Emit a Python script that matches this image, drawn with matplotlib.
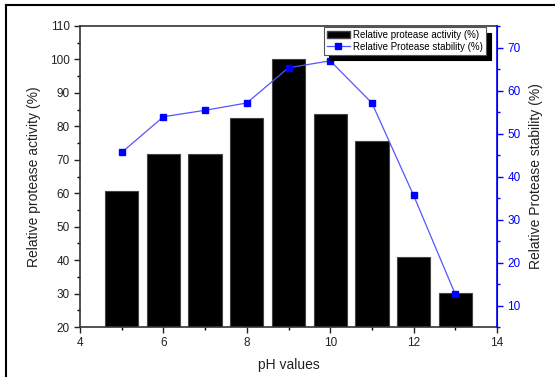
import matplotlib.pyplot as plt
from matplotlib.ticker import MultipleLocator
from matplotlib.lines import Line2D

plt.rcParams['font.family'] = ['Liberation Sans', 'DejaVu Sans']

ph = [5, 6, 7, 8, 9, 10, 11, 12, 13]
activity = [60.7, 71.7, 71.7, 82.4, 100, 83.7, 75.6, 40.9, 30.1]
stability = [45.6, 53.9, 55.4, 57.1, 65.3, 66.9, 57.1, 35.6, 12.6]

fig = plt.figure(figsize=(5.55, 3.77), dpi=100)
ax = fig.add_axes([80/555, 1 - 327/377, 417/555, 301/377])

ax.bar(ph, activity, width=0.8, color='black', edgecolor='#444444', linewidth=0.8,
       label='Relative protease activity (%)', zorder=2)
ax.set_xlim(4, 14)
ax.set_ylim(20, 110)
ax.xaxis.set_major_locator(MultipleLocator(2))
ax.xaxis.set_minor_locator(MultipleLocator(1))
ax.yaxis.set_major_locator(MultipleLocator(10))
ax.yaxis.set_minor_locator(MultipleLocator(5))
ax.tick_params(axis='both', which='major', direction='out', length=4, width=1,
               labelsize=8.5, colors='#222222')
ax.tick_params(axis='both', which='minor', direction='out', length=2.5, width=1)
ax.set_xlabel('pH values', fontsize=10, color='#222222', labelpad=6)
ax.set_ylabel('Relative protease activity (%)', fontsize=10, color='#222222', labelpad=6)
for s in ['left', 'bottom', 'top']:
    ax.spines[s].set_color('#333333')
    ax.spines[s].set_linewidth(1.2)

ax2 = ax.twinx()
ax2.plot(ph, stability, color='#5555ff', linewidth=0.9, marker='s', markersize=5,
         markerfacecolor='blue', markeredgecolor='blue', zorder=3)
ax2.set_ylim(5, 75)
ax2.yaxis.set_major_locator(MultipleLocator(10))
ax2.yaxis.set_minor_locator(MultipleLocator(5))
ax2.tick_params(axis='y', which='major', direction='out', length=4, width=1,
                labelsize=8.5, colors='blue')
ax2.tick_params(axis='y', which='minor', direction='out', length=2.5, width=1, colors='blue')
ax2.spines['right'].set_color('blue')
ax2.spines['right'].set_linewidth(1.2)
ax2.spines['left'].set_visible(False)
ax2.spines['bottom'].set_visible(False)
ax2.spines['top'].set_visible(False)
ax2.set_ylabel('Relative Protease stability (%)', fontsize=10, color='#222222', labelpad=6)

handles = [plt.Rectangle((0, 0), 1, 1, facecolor='black', edgecolor='#444444'),
           Line2D([], [], color='#5555ff', linewidth=0.9, marker='s', markersize=5,
                  markerfacecolor='blue', markeredgecolor='blue')]
labels = ['Relative protease activity (%)', 'Relative Protease stability (%)']
leg = ax2.legend(handles, labels, loc='upper right', bbox_to_anchor=(0.975, 1.0),
                 fontsize=7, frameon=True, fancybox=False, edgecolor='#555555',
                 borderpad=0.3, labelspacing=0.2, handlelength=2.4, handletextpad=0.3,
                 borderaxespad=0.1,
                 shadow={'color': 'black', 'alpha': 1, 'ox': 4, 'oy': -4})
leg.get_frame().set_linewidth(0.8)

# outer frame (top and left only)
fig.add_artist(Line2D([6/555, 1], [1 - 5/377, 1 - 5/377], color='black', linewidth=1.5))
fig.add_artist(Line2D([6/555, 6/555], [0, 1 - 5/377], color='black', linewidth=1.5))

fig.savefig('out.png', dpi=100)
